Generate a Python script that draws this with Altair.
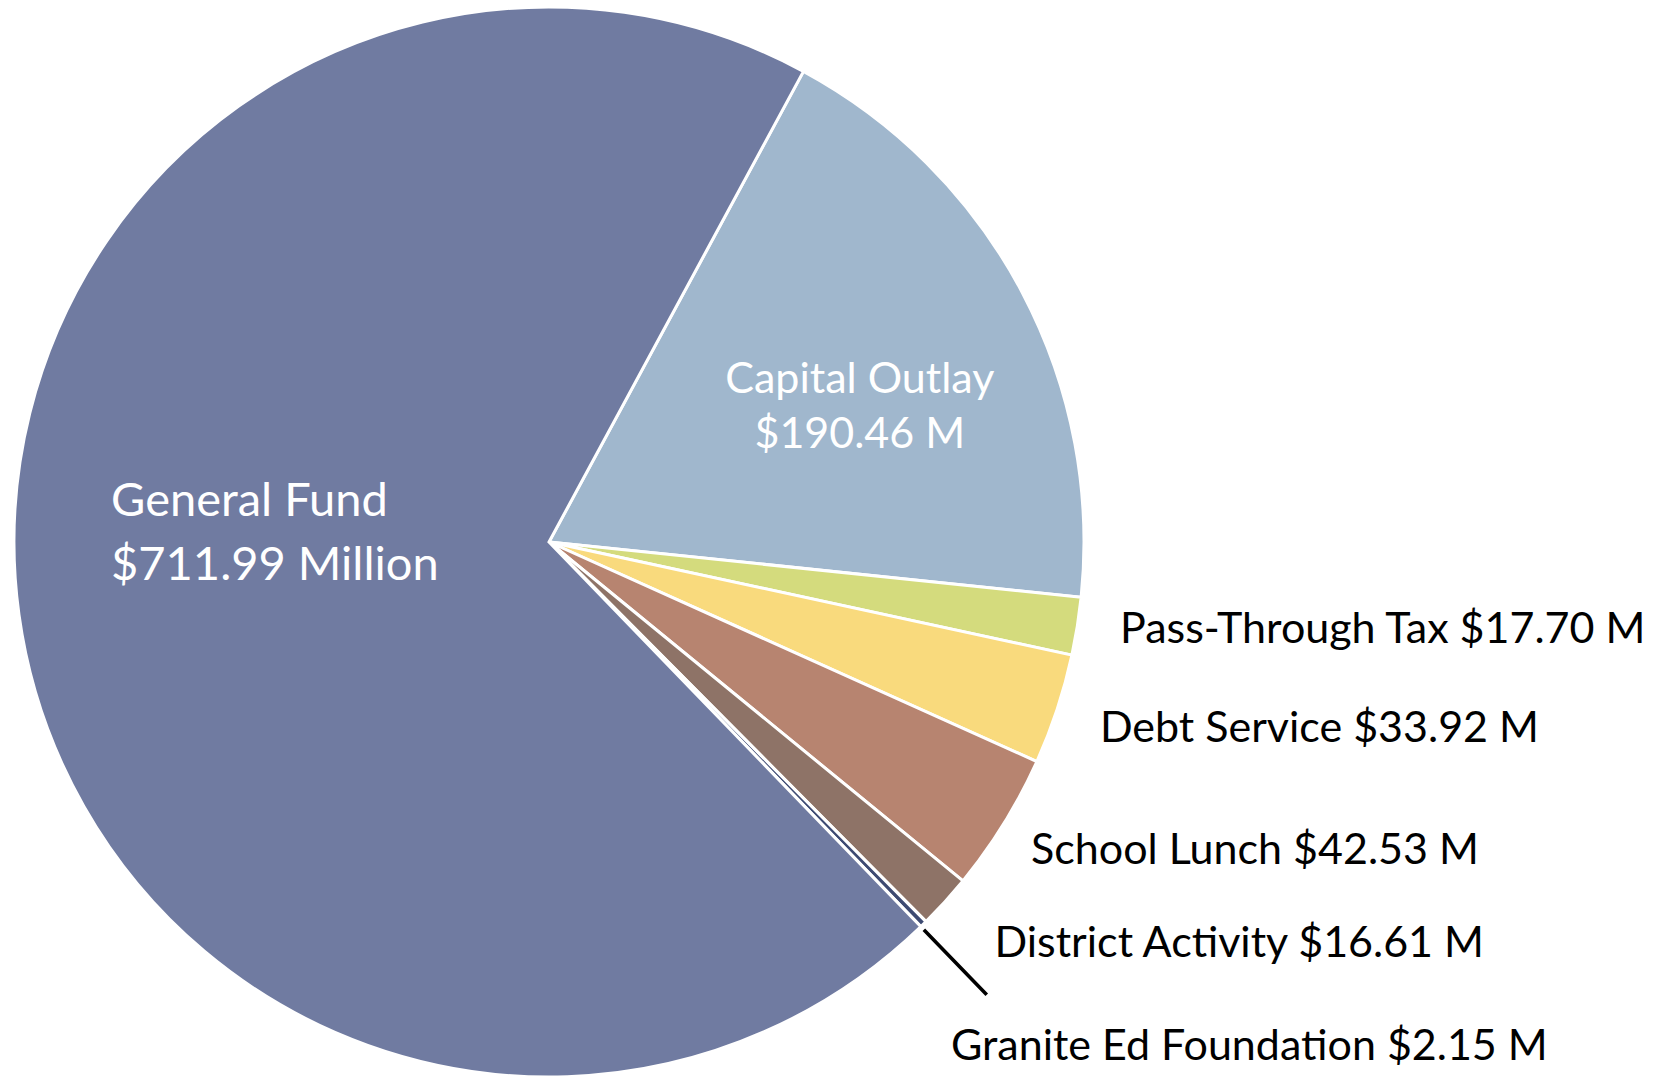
import math
import altair as alt
import pandas as pd

# ---- data ----
categories = ["Capital Outlay", "Pass-Through Tax", "Debt Service", "School Lunch",
              "District Activity", "Granite Ed Foundation", "General Fund"]
values = [190.46, 17.70, 33.92, 42.53, 16.61, 2.15, 711.99]
labels = ["Capital Outlay\n$190.46 M", "Pass-Through Tax $17.70 M", "Debt Service $33.92 M",
          "School Lunch $42.53 M", "District Activity $16.61 M",
          "Granite Ed Foundation $2.15 M", "General Fund\n$711.99 Million"]
colors = ["#a0b7cd", "#d4db7d", "#f9da7d", "#b78470", "#8e7367", "#3d4a72", "#707ba1"]

df = pd.DataFrame({"category": categories, "value": values, "label": labels,
                   "order": list(range(len(categories)))})
total = sum(values)

start_deg = 28.4
a0 = math.radians(start_deg)
theta_scale = alt.Scale(domain=[0, total], range=[a0, a0 + 2 * math.pi])
color_scale = alt.Scale(domain=categories, range=colors)

FONT = "Lato"

base = alt.Chart(df).transform_window(
    cum="sum(value)", sort=[alt.SortField("order")], frame=[None, 0]
).transform_calculate(
    start="datum.cum - datum.value",
    mid="datum.cum - datum.value / 2",
    lead2="datum.cum + 0.01",
)

pie = base.mark_arc(outerRadius=535, innerRadius=0, stroke="white", strokeWidth=3).encode(
    theta=alt.Theta("start:Q", scale=theta_scale, stack=None),
    theta2="cum:Q",
    color=alt.Color("category:N", scale=color_scale, legend=None),
)

leader = base.transform_filter(alt.datum.category == "Granite Ed Foundation").mark_arc(
    outerRadius=628, innerRadius=541, stroke="black", strokeWidth=3.5, fill="black"
).encode(
    theta=alt.Theta("cum:Q", scale=theta_scale, stack=None),
    theta2="lead2:Q",
)

# label placement: (radius, dx, dy, align, baseline, size, color)
label_style = {
    "Capital Outlay": (330, 19, -8, "center", "middle", 43, "white"),
    "General Fund": (440, -2, -100, "left", "middle", 47, "white"),
    "Pass-Through Tax": (560, 18, 13, "left", "alphabetic", 43, "black"),
    "Debt Service": (560, 19, 25, "left", "alphabetic", 43, "black"),
    "School Lunch": (560, 6, 27, "left", "alphabetic", 43, "black"),
    "District Activity": (560, 31, 38, "left", "alphabetic", 43, "black"),
    "Granite Ed Foundation": (560, 10, 118, "left", "alphabetic", 43, "black"),
}

layers = [pie, leader]
for cat, (r, dx, dy, align, baseline, size, col) in label_style.items():
    lh = 64 if cat == "General Fund" else 55
    t = base.transform_filter(alt.datum.category == cat).mark_text(
        radius=r, dx=dx, dy=dy, align=align, baseline=baseline, fontSize=size,
        font=FONT, color=col, lineBreak="\n", lineHeight=lh,
    ).encode(
        theta=alt.Theta("mid:Q", scale=theta_scale, stack=None),
        text="label:N",
    )
    layers.append(t)

chart = alt.layer(*layers).properties(
    width=1082, height=1056,
    autosize=alt.AutoSizeParams(type="none"),
    padding={"left": 0, "top": 6, "right": 564, "bottom": 10},
    background="white",
).configure_view(stroke=None)

chart.save("out.html", embed_options={"renderer": "svg", "actions": False})
